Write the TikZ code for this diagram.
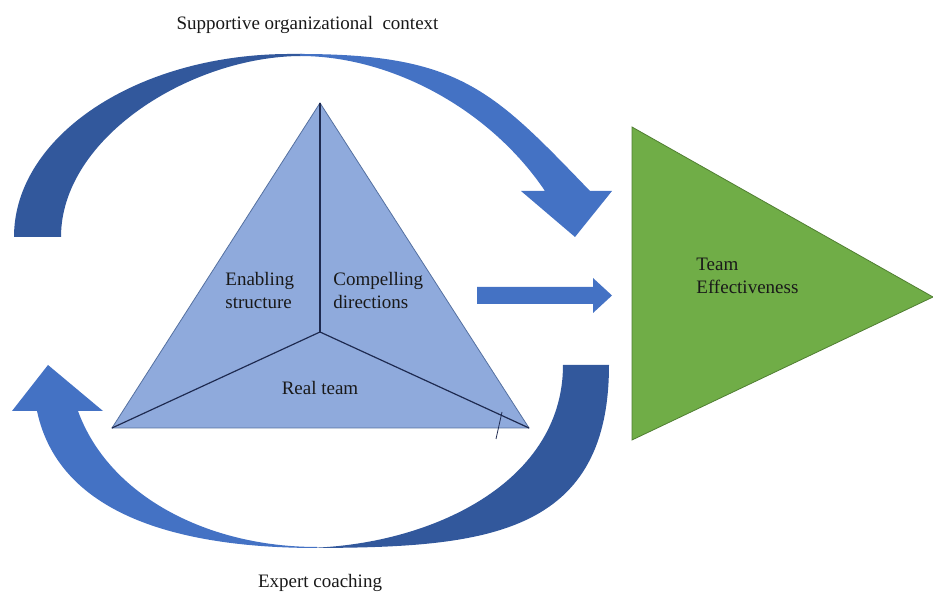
\documentclass[tikz,border=0pt]{standalone}
\usepackage{fontspec}
\setmainfont{Liberation Serif}
\usepackage{xcolor}
\definecolor{frontblue}{RGB}{68,114,196}
\definecolor{backblue}{RGB}{50,88,156}
\definecolor{teamblue}{RGB}{143,170,220}
\definecolor{edgeblue}{RGB}{84,112,160}
\definecolor{linenavy}{RGB}{30,42,80}
\definecolor{goalgreen}{RGB}{112,173,71}
\definecolor{goaledge}{RGB}{80,126,50}

\begin{document}
\begin{tikzpicture}[x=0.5pt,y=0.5pt]

    \tikzset{lbl/.style = {font=\fontsize{9.5}{11.5}\selectfont, inner sep=0pt, text=black!90}}
    \tikzset{split/.style = {draw=linenavy, line width=0.6pt}}
    \useasboundingbox (0,0) rectangle (933,593);
    % corners of the team triangle
    \coordinate (T) at (320,490);
    \coordinate (L) at (112,165);
    \coordinate (R) at (529,165);
    \coordinate (C) at (320,261);
    \coordinate (tickA) at (502,181);
    \coordinate (tickB) at (496,154);
    %upper curved arrow
    \fill[backblue] (14,356) arc[start angle=180, end angle=90, x radius=276, y radius=183]
        -- (302,539) -- (302,537) .. controls +(180:110) and +(90:100) .. (61,356) -- cycle;
    \fill[frontblue] (300,539) .. controls +(0:160) and +(134:140) .. (590,402)
        -- (612,402) -- (575,356) -- (521,402) -- (545,402)
        .. controls +(124:100) and +(0:90) .. (300,537) -- cycle;
    %lower curved arrow
    \fill[backblue] (563,228) -- (609,228) .. controls +(-90:176) and +(0:176) .. (300,45)
        .. controls +(0:122) and +(-90:122) .. (563,228) -- cycle;
    \fill[frontblue] (317,45) .. controls +(180:130) and +(-78:110) .. (37,182)
        -- (12,182) -- (48,228) -- (103,182) -- (78,182)
        .. controls +(-70:90) and +(180:110) .. (317,46) -- cycle;
    %team triangle
    \filldraw[fill=teamblue, draw=edgeblue, line width=0.4pt] (T) -- (L) -- (R) -- cycle;
    \draw[split] (C) -- (T);
    \draw[split] (C) -- (L);
    \draw[split] (C) -- (R);
    \draw[linenavy, line width=0.4pt] (tickA) -- (tickB);
    %straight arrow
    \fill[frontblue] (477,289) -- (593,289) -- (593,280) -- (612,297.5) -- (593,315) -- (593,306) -- (477,306) -- cycle;
    %effectiveness
    \filldraw[fill=goalgreen, draw=goaledge, line width=0.4pt] (632,466) -- (933,296) -- (632,153) -- cycle;
    %labels
    \node[lbl, anchor=north west, align=left] (enabling) at (225,321) {Enabling\\structure};
    \node[lbl, anchor=north west, align=left] (compelling) at (333,321) {Compelling\\directions};
    \node[lbl, anchor=base] (realteam) at (320,198) {Real team};
    \node[lbl, anchor=north west, align=left] (effect) at (696,335) {Team\\Effectiveness};
    \node[lbl, anchor=base] (context) at (307.5,563) {Supportive organizational~ context};
    \node[lbl, anchor=base] (coaching) at (320,5) {Expert coaching};
\end{tikzpicture}
\end{document}
